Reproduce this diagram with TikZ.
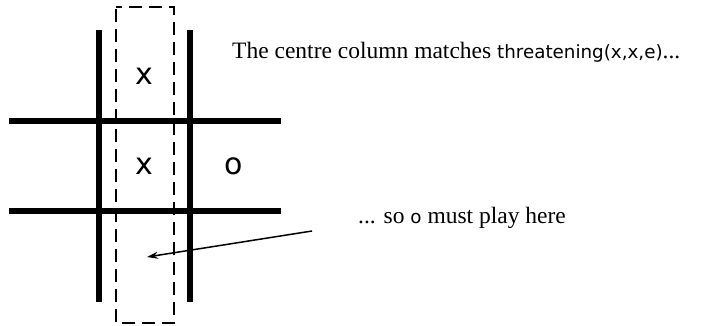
\documentclass[tikz,border=0pt]{standalone}
\usepackage{fontspec}
\setmainfont{Liberation Serif}
\newfontfamily\codefont{DejaVu Sans}
\usetikzlibrary{arrows.meta}
\tikzset{
  gridline/.style={line width=5.5pt},
  mark box/.style={line width=1.6pt, dash pattern=on 13pt off 7pt, dash phase=-2pt},
  cell/.style={font=\codefont\fontsize{30}{36}\selectfont, inner sep=0pt},
  caption/.style={font=\fontsize{23.5}{28}\selectfont, anchor=west, inner sep=0pt},
  pointer/.style={line width=1.5pt, -{Stealth[length=11pt,width=7pt]}}
}
\newcommand{\cd}[1]{{\codefont\fontsize{18.3}{22}\selectfont #1}}
\begin{document}
\begin{tikzpicture}[x=1pt,y=-1pt]
\useasboundingbox (0,0) rectangle (702,326);
% grid
\draw[gridline] (99,30) -- (99,302);
\draw[gridline] (190,30) -- (190,302);
\draw[gridline] (9,121) -- (281,121);
\draw[gridline] (9,211) -- (281,211);
% dashed box
\draw[mark box] (116,7) rectangle (174,323);
% cells
\node[cell] (x1) at (144,76) {x};
\node[cell] (x2) at (144,166) {x};
\node[cell] (o1) at (234,166) {o};
\coordinate (target) at (147,257);
% captions
\node[caption] (t1) at (232,52) {The centre column matches \cd{threatening(x,x,e)}...};
\node[caption] (t2) at (358,218) {... so \cd{o} must play here};
\coordinate (tail) at (312,231);
\draw[pointer] (tail) -- (target);
\end{tikzpicture}
\end{document}
